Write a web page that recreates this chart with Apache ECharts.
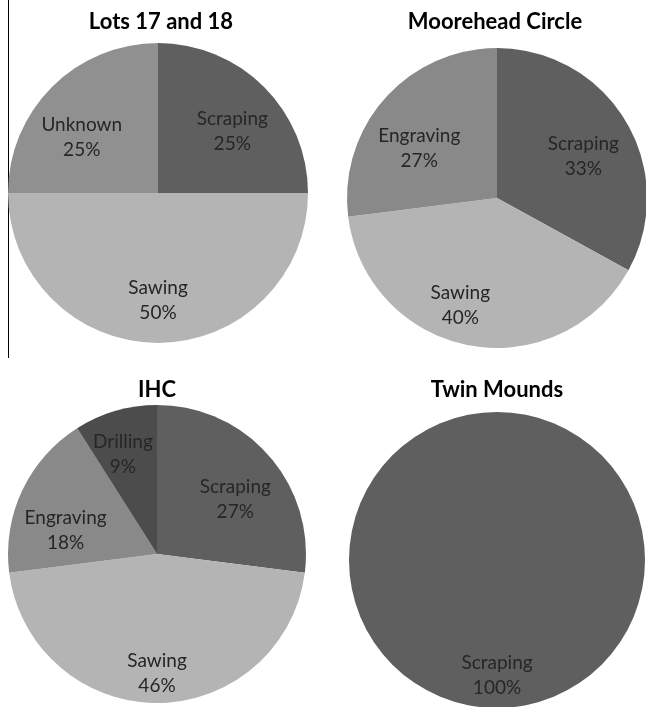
<!DOCTYPE html>
<html>
<head>
<meta charset="utf-8">
<script src="https://cdn.jsdelivr.net/npm/echarts@6/dist/echarts.min.js"></script>
<style>
  html, body { margin: 0; padding: 0; background: #fff; }
  #chart { width: 646px; height: 707px; }
</style>
</head>
<body>
<div id="chart"></div>
<script>
// chart titles
const titles = ['Lots 17 and 18', 'Moorehead Circle', 'IHC', 'Twin Mounds']

// slices per site, clockwise from 12 o'clock
const lotsNames = ['Scraping', 'Sawing', 'Unknown']
const lotsValues = [25, 50, 25]
const mooreheadNames = ['Scraping', 'Sawing', 'Engraving']
const mooreheadValues = [33, 40, 27]
const ihcNames = ['Scraping', 'Sawing', 'Engraving', 'Drilling']
const ihcValues = [27, 46, 18, 9]
const twinNames = ['Scraping']
const twinValues = [100]

const colorOf = {
  Scraping: '#5f5f5f',
  Sawing: '#b4b4b4',
  Unknown: '#909090',
  Engraving: '#898989',
  Drilling: '#4c4c4c'
}

// layout of each pie; nudge = small label shift (best-fit placement like the original)
const pies = [
  { names: lotsNames, values: lotsValues, center: [158, 193], r: 150, title: [161, 11],
    nudge: [[0, 13], [0, 2], [-2, 19]] },
  { names: mooreheadNames, values: mooreheadValues, center: [497, 198], r: 150, title: [495, 11],
    nudge: [[-4, 12], [-17, 4], [1, 20]] },
  { names: ihcNames, values: ihcValues, center: [157, 554], r: 149, title: [157, 379],
    nudge: [[0, 14], [0, 15], [3, 21], [-5, 1]] },
  { names: twinNames, values: twinValues, center: [497, 560], r: 148, title: [497, 379],
    nudge: [[0, 12]] }
]

const series = []
pies.forEach((p, i) => {
  // the filled pie
  series.push({
    type: 'pie',
    center: p.center,
    radius: [0, p.r],
    startAngle: 90,
    clockwise: true,
    silent: true,
    animation: false,
    label: { show: false },
    labelLine: { show: false },
    itemStyle: { borderWidth: 0 },
    data: p.names.map((n, k) => ({ name: n, value: p.values[k], itemStyle: { color: colorOf[n] } }))
  })
  // transparent ring, only used to place the labels further out
  series.push({
    type: 'pie',
    center: p.center,
    radius: [p.r * 0.36, p.r],
    startAngle: 90,
    clockwise: true,
    silent: true,
    animation: false,
    itemStyle: { color: 'rgba(0,0,0,0)', borderWidth: 0 },
    label: {
      show: true,
      position: 'inside',
      formatter: '{b}\n{c}%',
      fontFamily: 'Lato',
      fontSize: 19,
      lineHeight: 25,
      color: '#262626'
    },
    labelLine: { show: false },
    data: p.names.map((n, k) => ({ name: n, value: p.values[k], label: { offset: p.nudge[k] } }))
  })
})

const graphic = pies.map((p, i) => ({
  type: 'text',
  x: p.title[0],
  y: p.title[1],
  style: {
    text: titles[i],
    align: 'center',
    verticalAlign: 'top',
    font: 'bold 22px Lato',
    fill: '#000'
  }
}))
graphic.push({
  type: 'line',
  shape: { x1: 8.5, y1: 0, x2: 8.5, y2: 358 },
  style: { stroke: '#000', lineWidth: 1 }
})

const chart = echarts.init(document.getElementById('chart'))
chart.setOption({
  animation: false,
  graphic: graphic,
  series: series
})
</script>
</body>
</html>
